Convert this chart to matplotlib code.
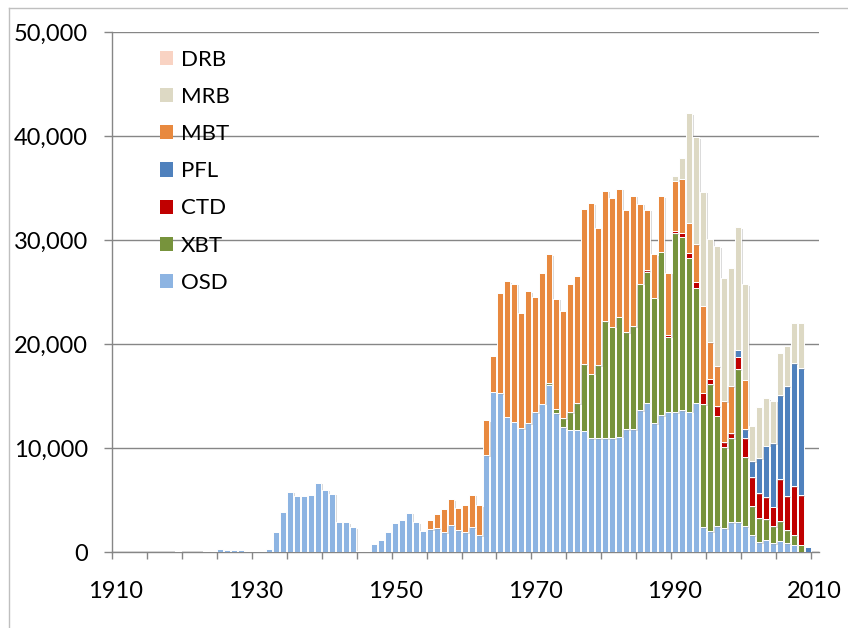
import numpy as np
import pandas as pd
import matplotlib
matplotlib.use("Agg")
import matplotlib.pyplot as plt
from matplotlib.lines import Line2D
from matplotlib.patches import Patch
import matplotlib.patheffects as pe

plt.rcParams['font.family'] = ['Lato', 'DejaVu Sans']

years = list(range(1910, 2010))

osd = [0, 0, 0, 0, 0, 0, 0, 0, 0,
       120,
       0, 0, 0,
       120, 120, 320, 220, 220, 220, 120, 120, 120, 320,
       1920, 3890, 5820, 5380, 5460, 5540, 6680, 6020, 5640, 2870, 2870, 2400,
       150, 150, 830, 1210, 1950, 2790, 3140, 3810, 2880, 2050,
       2210, 2300, 1920, 2600, 2140, 1950, 2400, 1630, 9360, 15430,
       15280, 13030, 12570, 11920, 12440, 13470, 14300, 16130, 13380, 12000,
       11800, 11800, 11700, 11000, 11000, 10980, 10980, 11120, 11820, 11820,
       13680, 14390, 12400, 13200, 13520, 13460, 13680, 13520, 14390, 2400,
       2050, 2500, 2320, 2880, 2880, 2500, 1670, 960, 1220, 870,
       1120, 900, 740, 0, 0]

xbt_years = list(range(1972, 2009))
xbt = [150, 420, 920, 1660, 2530, 6390, 6190, 7010, 11260, 10710,
       11550, 9330, 9940, 12150, 12590, 12080, 15700, 7210, 17210, 16670,
       14810, 11050, 11840, 14110, 10650, 7760, 8080, 14720, 6630, 2750,
       2350, 1990, 1630, 1860, 1250, 930, 740]

ctd_years = list(range(1986, 2009))
ctd = [160, 0, 0, 190, 250, 380, 480, 580, 1120, 540,
       880, 510, 480, 1210, 1830, 2790, 2360, 2080, 1890, 4080,
       3230, 4680, 4780]

pfl_years = list(range(1999, 2010))
pfl = [680, 910, 1540, 3370, 4970, 6130, 8040, 10620, 11820, 12170, 550]

mbt_years = list(range(1955, 2001))
mbt = [930, 1350, 2240, 2500, 2120, 2630, 3140, 2920, 3340, 3460,
       9680, 13050, 13270, 11130, 12660, 11030, 12560, 12360, 10600, 10260,
       12290, 12270, 14910, 16370, 13210, 12530, 12350, 12280, 11790, 12530,
       7690, 5800, 4170, 5330, 5960, 4810, 5190, 2880, 3600, 8350,
       3480, 3870, 3960, 4540, 0, 4730]

mrb_years = list(range(1990, 2009))
mrb = [450, 2020, 10520, 10280, 10980, 9940, 11540, 11790, 11380, 11760,
       9170, 3370, 4900, 4550, 4070, 4070, 3810, 3890, 4370]

drb_years = list(range(2000, 2010))
drb = [0, 0, 0, 0, 0, 0, 0, 0, 0, 0]

series_names = ['OSD', 'XBT', 'CTD', 'PFL', 'MBT', 'MRB', 'DRB']
colors = ['#8DB4E2', '#77933C', '#C00000', '#4F81BD', '#E8893F', '#DDD9C4', '#F9D3C3']


def full(yrs, vals):
    return pd.Series(vals, index=yrs).reindex(years, fill_value=0).to_numpy(dtype=float)


data = [np.array(osd, dtype=float), full(xbt_years, xbt), full(ctd_years, ctd),
        full(pfl_years, pfl), full(mbt_years, mbt), full(mrb_years, mrb),
        full(drb_years, drb)]

W, H = 848, 628
fig = plt.figure(figsize=(W / 100, H / 100), dpi=100)
x0, x1 = 111.7, 819.0
y0, y1 = 552.3, 32.3
ax = fig.add_axes([x0 / W, 1 - y0 / H, (x1 - x0) / W, (y0 - y1) / H])

shadow = [pe.SimplePatchShadow(offset=(1.2, -1.2), shadow_rgbFace='#9a9a9a', alpha=0.35), pe.Normal()]
bottom = np.zeros(len(years))
for name, vals, col in zip(series_names, data, colors):
    bc = ax.bar(years, vals, width=0.86, bottom=bottom, color=col,
                edgecolor='white', linewidth=0.7, label=name, zorder=3)
    for p in bc.patches:
        p.set_path_effects(shadow)
    bottom = bottom + vals

ax.set_xlim(1909.5, 2010.6)
ax.set_ylim(0, 50000)

grid_col = '#868686'
ax.set_yticks(range(0, 50001, 10000))
ax.yaxis.set_major_formatter(matplotlib.ticker.FuncFormatter(lambda v, p: f'{int(v):,}'))
ax.yaxis.grid(True, color=grid_col, linewidth=1.0, zorder=0)
ax.set_axisbelow(True)
ax.tick_params(axis='y', which='major', length=6, width=1, color=grid_col,
               labelsize=17, pad=11, labelcolor='black')

ax.set_xticks(list(range(1910, 2011, 20)))
ax.set_xticks([1909.5 + 5 * k for k in range(21)], minor=True)
ax.tick_params(axis='x', which='major', length=0, labelsize=17, pad=21, labelcolor='black')
ax.tick_params(axis='x', which='minor', length=5, width=1, color=grid_col)

for s in ['top', 'right']:
    ax.spines[s].set_visible(False)
for s in ['left', 'bottom']:
    ax.spines[s].set_color(grid_col)
    ax.spines[s].set_linewidth(1.0)

handles = [Patch(facecolor=c, edgecolor='none') for c in colors][::-1]
labels = series_names[::-1]
leg = ax.legend(handles, labels, loc='upper left',
                bbox_to_anchor=(160 / W, 1 - 50 / H), bbox_transform=fig.transFigure,
                frameon=False, fontsize=16, handlelength=0.6, handleheight=0.6,
                handletextpad=0.35, labelspacing=0.77, borderpad=0, borderaxespad=0)

# outer chart frame (only top and left edges visible)
fig.add_artist(Line2D([9 / W, 1], [1 - 8 / H, 1 - 8 / H], transform=fig.transFigure,
                      color='#BFBFBF', linewidth=1.0))
fig.add_artist(Line2D([9 / W, 9 / W], [0, 1 - 8 / H], transform=fig.transFigure,
                      color='#BFBFBF', linewidth=1.0))

fig.savefig('out.png', dpi=100)
